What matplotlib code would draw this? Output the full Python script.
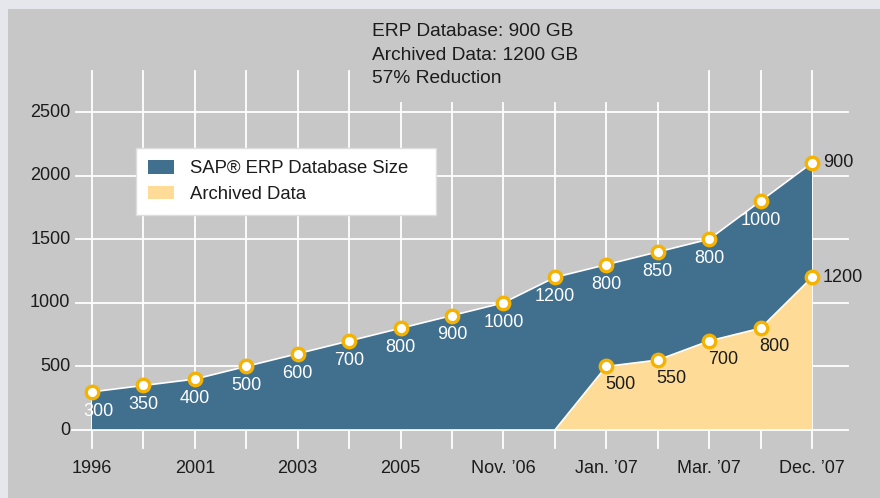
import matplotlib.pyplot as plt
from matplotlib.patches import Patch, Rectangle

plt.rcParams['font.family'] = ['Liberation Sans', 'DejaVu Sans']

# data
periods = list(range(15))
tick_idx = [0, 2, 4, 6, 8, 10, 12, 14]
tick_labels = ['1996', '2001', '2003', '2005', 'Nov. ’06', 'Jan. ’07', 'Mar. ’07', 'Dec. ’07']
erp = [300, 350, 400, 500, 600, 700, 800, 900, 1000, 1200, 800, 850, 800, 1000, 900]
archived = [0, 0, 0, 0, 0, 0, 0, 0, 0, 0, 500, 550, 700, 800, 1200]
yticks = [0, 500, 1000, 1500, 2000, 2500]

blue = '#41708f'
yellow = '#fedc97'
orange = '#f5b200'
bg = '#c6c7c6'
txt = '#1c1c1c'

fig = plt.figure(figsize=(8.8, 4.98), dpi=100, facecolor='#e6e7ec')
fig.patches.append(Rectangle((8 / 880, 0), 1, 1 - 9 / 498, transform=fig.transFigure,
                             facecolor=bg, edgecolor='none', zorder=-5))

# place axes so that points land where they do in the original
px_step = 720 / 14
py_unit = 318 / 2500
ax = fig.add_axes([60 / 880, 48 / 498, 790 / 880, 390 / 498])
ax.set_xlim((60 - 92) / px_step, (850 - 92) / px_step)
ax.set_ylim(-(450 - 430) / py_unit, (430 - 60) / py_unit)
ax.axis('off')

fs = 13

# grid
for i in periods:
    top = 2570 if 6 <= i <= 11 else 2822
    ax.plot([i, i], [-140, top], color='white', lw=1.3, zorder=1, clip_on=False)
for y in yticks:
    x0 = -0.39 if y == 0 else -0.31
    ax.plot([x0, 14.7], [y, y], color='white', lw=1.3, zorder=1, clip_on=False)
    ax.text(-0.42, y, str(y), ha='right', va='center', fontsize=fs, color=txt)

for i, lab in zip(tick_idx, tick_labels):
    ax.text(i, -300, lab, ha='center', va='center', fontsize=fs, color=txt)

total = [a + e for a, e in zip(archived, erp)]
ax.stackplot(periods, archived, erp, colors=[yellow, blue], zorder=2)
ax.plot(periods, total, color='white', lw=1.2, zorder=3)
first = archived.index(next(v for v in archived if v > 0)) - 1
ax.plot(periods[first:], archived[first:], color='white', lw=1.2, zorder=3)
ax.plot([0, 14], [0, 0], color='white', lw=1.2, zorder=3)

ax.plot(periods, total, ls='none', marker='o', ms=9, mfc='white', mec=orange, mew=2.4, zorder=4)
ax.plot(periods[first + 1:], archived[first + 1:], ls='none', marker='o', ms=9,
        mfc='white', mec=orange, mew=2.4, zorder=4)

# value labels
for i in periods:
    if i == periods[-1]:
        ax.annotate(str(erp[i]), (i, total[i]), xytext=(8, 0), textcoords='offset points',
                    ha='left', va='center', fontsize=fs, color=txt)
    else:
        dx = 5 if i == 0 else 0
        ax.annotate(str(erp[i]), (i, total[i]), xytext=(dx, -14), textcoords='offset points',
                    ha='center', va='center', fontsize=fs, color='white', zorder=5)
for i in periods[first + 1:]:
    if i == periods[-1]:
        ax.annotate(str(archived[i]), (i, archived[i]), xytext=(8, 0), textcoords='offset points',
                    ha='left', va='center', fontsize=fs, color=txt)
    else:
        ax.annotate(str(archived[i]), (i, archived[i]), xytext=(10, -13), textcoords='offset points',
                    ha='center', va='center', fontsize=fs, color=txt, zorder=5)

handles = [Patch(facecolor=blue, label='SAP® ERP Database Size'),
           Patch(facecolor=yellow, label='Archived Data')]
leg = fig.legend(handles=handles, loc='upper left',
                 bbox_to_anchor=(136 / 880, 1 - 210 / 498, 300 / 880, 62 / 498), mode='expand',
                 fontsize=13.3, frameon=True, fancybox=False, framealpha=1, borderaxespad=0,
                 edgecolor='#dddddd', handlelength=1.4, handleheight=0.75,
                 borderpad=0.65, labelspacing=0.45, handletextpad=0.9)
leg.get_frame().set_linewidth(1.0)
for t in leg.get_texts():
    t.set_color(txt)

fig.text(372 / 880, 1 - 23 / 498,
         'ERP Database: 900 GB\nArchived Data: 1200 GB\n57% Reduction',
         ha='left', va='top', fontsize=13.8, color=txt, linespacing=1.5)

fig.savefig('out.png', dpi=100, facecolor=fig.get_facecolor())
